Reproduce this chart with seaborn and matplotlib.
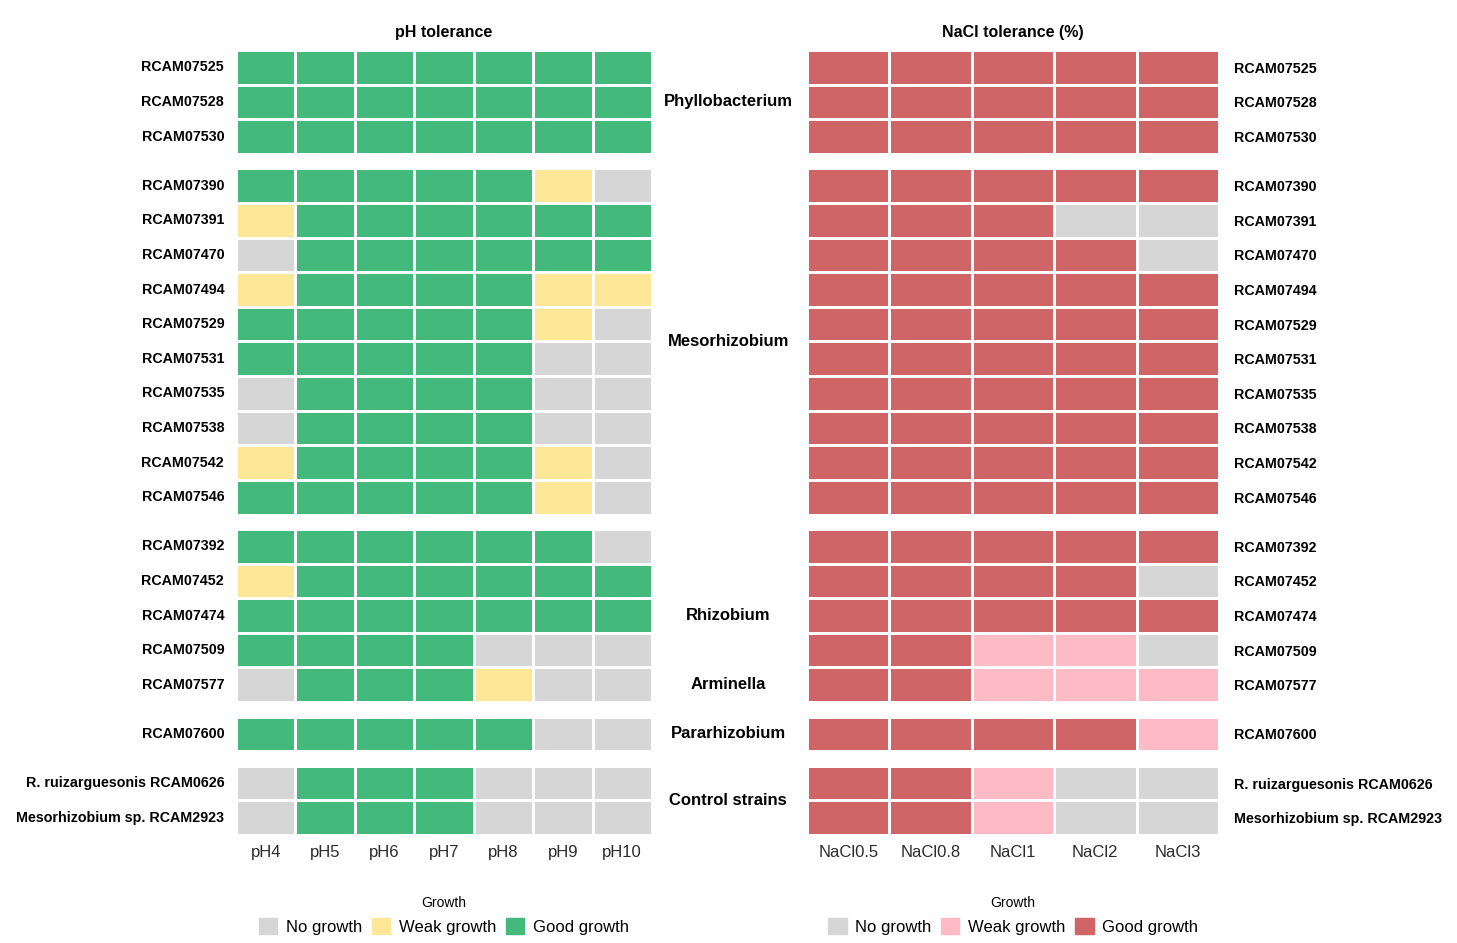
import matplotlib.pyplot as plt
import matplotlib.transforms as mtransforms
from matplotlib.colors import ListedColormap
from matplotlib.patches import Patch
import pandas as pd
import seaborn as sns

# Données : 0 = No growth, 1 = Weak growth, 2 = Good growth
ph_cols = ["pH4", "pH5", "pH6", "pH7", "pH8", "pH9", "pH10"]
nacl_cols = ["NaCl0.5", "NaCl0.8", "NaCl1", "NaCl2", "NaCl3"]
growth_labels = ["No growth", "Weak growth", "Good growth"]

groups = ["Phyllobacterium", "Mesorhizobium", "Rhizobium", "Pararhizobium", "Control strains"]

strains_phyllo = ["RCAM07525", "RCAM07528", "RCAM07530"]
strains_meso = ["RCAM07390", "RCAM07391", "RCAM07470", "RCAM07494", "RCAM07529",
                "RCAM07531", "RCAM07535", "RCAM07538", "RCAM07542", "RCAM07546"]
strains_rhizo = ["RCAM07392", "RCAM07452", "RCAM07474", "RCAM07509", "RCAM07577"]
strains_para = ["RCAM07600"]
strains_ctrl = ["R. ruizarguesonis RCAM0626", "Mesorhizobium sp. RCAM2923"]

ph_phyllo = [[2, 2, 2, 2, 2, 2, 2],
             [2, 2, 2, 2, 2, 2, 2],
             [2, 2, 2, 2, 2, 2, 2]]
ph_meso = [[2, 2, 2, 2, 2, 1, 0],
           [1, 2, 2, 2, 2, 2, 2],
           [0, 2, 2, 2, 2, 2, 2],
           [1, 2, 2, 2, 2, 1, 1],
           [2, 2, 2, 2, 2, 1, 0],
           [2, 2, 2, 2, 2, 0, 0],
           [0, 2, 2, 2, 2, 0, 0],
           [0, 2, 2, 2, 2, 0, 0],
           [1, 2, 2, 2, 2, 1, 0],
           [2, 2, 2, 2, 2, 1, 0]]
ph_rhizo = [[2, 2, 2, 2, 2, 2, 0],
            [1, 2, 2, 2, 2, 2, 2],
            [2, 2, 2, 2, 2, 2, 2],
            [2, 2, 2, 2, 0, 0, 0],
            [0, 2, 2, 2, 1, 0, 0]]
ph_para = [[2, 2, 2, 2, 2, 0, 0]]
ph_ctrl = [[0, 2, 2, 2, 0, 0, 0],
           [0, 2, 2, 2, 0, 0, 0]]

nacl_phyllo = [[2, 2, 2, 2, 2],
               [2, 2, 2, 2, 2],
               [2, 2, 2, 2, 2]]
nacl_meso = [[2, 2, 2, 2, 2],
             [2, 2, 2, 0, 0],
             [2, 2, 2, 2, 0],
             [2, 2, 2, 2, 2],
             [2, 2, 2, 2, 2],
             [2, 2, 2, 2, 2],
             [2, 2, 2, 2, 2],
             [2, 2, 2, 2, 2],
             [2, 2, 2, 2, 2],
             [2, 2, 2, 2, 2]]
nacl_rhizo = [[2, 2, 2, 2, 2],
              [2, 2, 2, 2, 0],
              [2, 2, 2, 2, 2],
              [2, 2, 1, 1, 0],
              [2, 2, 1, 1, 1]]
nacl_para = [[2, 2, 2, 2, 1]]
nacl_ctrl = [[2, 2, 1, 0, 0],
             [2, 2, 1, 0, 0]]

strains = [strains_phyllo, strains_meso, strains_rhizo, strains_para, strains_ctrl]
ph_data = [ph_phyllo, ph_meso, ph_rhizo, ph_para, ph_ctrl]
nacl_data = [nacl_phyllo, nacl_meso, nacl_rhizo, nacl_para, nacl_ctrl]

# Couleurs
colors_ph = ["#d6d6d6", "#fee796", "#43b97b"]
colors_nacl = ["#d6d6d6", "#ffbbc5", "#cf6566"]

sns.set_theme(style="white")
plt.rcParams['font.family'] = ['Liberation Sans', 'DejaVu Sans']
plt.rcParams['text.color'] = 'black'

fig = plt.figure(figsize=(14.57, 9.43), dpi=100)
sizes = [len(s) for s in strains]
gs_l = fig.add_gridspec(5, 1, height_ratios=sizes, left=0.162, right=0.4475,
                        top=0.947, bottom=0.1145, hspace=0.1)
gs_r = fig.add_gridspec(5, 1, height_ratios=sizes, left=0.5539, right=0.8366,
                        top=0.947, bottom=0.1145, hspace=0.1)

for i in range(5):
    ax_l = fig.add_subplot(gs_l[i])
    ax_r = fig.add_subplot(gs_r[i])
    df_ph = pd.DataFrame(ph_data[i], index=strains[i], columns=ph_cols)
    df_na = pd.DataFrame(nacl_data[i], index=strains[i], columns=nacl_cols)

    # 1. heatmaps
    sns.heatmap(df_ph, ax=ax_l, cmap=ListedColormap(colors_ph), vmin=-0.5, vmax=2.5,
                cbar=False, linewidths=1.0, linecolor="white",
                xticklabels=True, yticklabels=True)
    sns.heatmap(df_na, ax=ax_r, cmap=ListedColormap(colors_nacl), vmin=-0.5, vmax=2.5,
                cbar=False, linewidths=1.0, linecolor="white",
                xticklabels=True, yticklabels=True)

    # 2. axes et labels
    for ax in (ax_l, ax_r):
        ax.set_xlabel("")
        ax.set_ylabel("")
        ax.tick_params(length=0)
        if i < 4:
            ax.set_xticks([])
        else:
            ax.tick_params(axis="x", pad=7, labelsize=12, labelcolor="#2b2b2b")
            for t in ax.get_xticklabels():
                t.set_rotation(0)
    ax_l.tick_params(axis="y", pad=8.5, labelsize=10.3)
    ax_r.yaxis.tick_right()
    ax_r.tick_params(axis="y", pad=10.5, labelsize=10.3, length=0)
    for ax in (ax_l, ax_r):
        for t in ax.get_yticklabels():
            t.set_rotation(0)
            t.set_fontweight("bold")
            t.set_color("black")
    for t in ax_r.get_yticklabels():
        t.set_horizontalalignment("left")

    # 3. noms des genres au milieu
    trans = mtransforms.blended_transform_factory(fig.transFigure, ax_l.transData)
    if groups[i] == "Rhizobium":
        ax_l.text(0.4997, 2.5, "Rhizobium", transform=trans, ha="center", va="center",
                  fontsize=12, fontweight="bold", clip_on=False)
        ax_l.text(0.4997, 4.5, "Arminella", transform=trans, ha="center", va="center",
                  fontsize=12, fontweight="bold", clip_on=False)
    else:
        ax_l.text(0.4997, sizes[i] / 2, groups[i], transform=trans, ha="center",
                  va="center", fontsize=12, fontweight="bold", clip_on=False)

    if i == 0:
        ax_l.set_title("pH tolerance", fontsize=11.5, fontweight="bold", pad=9, color="black")
        ax_r.set_title("NaCl tolerance (%)", fontsize=11.5, fontweight="bold", pad=9, color="black")

# 4. légendes
for colors, xc in [(colors_ph, 0.3047), (colors_nacl, 0.6953)]:
    handles = [Patch(facecolor=c, edgecolor=c, label=l) for c, l in zip(colors, growth_labels)]
    leg = fig.legend(handles=handles, title="Growth", loc="center", ncol=3,
                     bbox_to_anchor=(xc, 0.029), frameon=False, fontsize=12,
                     title_fontsize=10, handlelength=1.1, handleheight=1.1,
                     handletextpad=0.5, columnspacing=0.6)
    for t in leg.get_texts():
        t.set_color("black")

plt.savefig("out.png", dpi=100)
